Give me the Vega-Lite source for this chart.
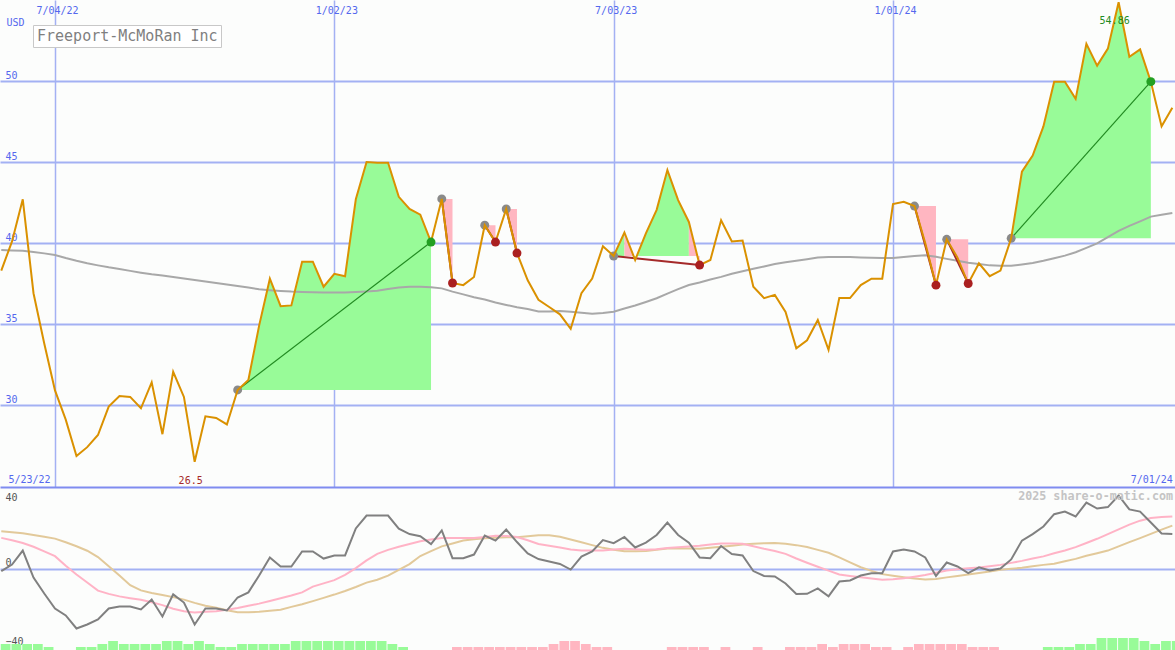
{
  "$schema": "https://vega.github.io/schema/vega-lite/v6.json",
  "background": "#fcfdfc",
  "padding": 0,
  "spacing": 0,
  "bounds": "flush",
  "config": {
    "view": {"stroke": null},
    "axis": {"labelFont": "DejaVu Sans Mono", "labelFontSize": 10, "titleFont": "DejaVu Sans Mono", "titleFontSize": 10, "titleFontWeight": "normal", "titleColor": "#5468ee"}
  },
  "datasets": {
    "weekly": [
      {"d":"2022-05-30","c":38.3,"ma":39.57,"o":-1.5,"s":16.9,"t":20.6,"h":2,"hd":"up"},
      {"d":"2022-06-06","c":40.1,"ma":39.54,"o":2.2,"s":15.6,"t":20.0,"h":2,"hd":"up"},
      {"d":"2022-06-13","c":42.7,"ma":39.52,"o":9.9,"s":14.1,"t":19.4,"h":2,"hd":"up"},
      {"d":"2022-06-20","c":36.9,"ma":39.45,"o":-5.0,"s":12.0,"t":18.5,"h":2,"hd":"up"},
      {"d":"2022-06-27","c":33.8,"ma":39.36,"o":-13.8,"s":9.5,"t":17.5,"h":1,"hd":"up"},
      {"d":"2022-07-04","c":30.9,"ma":39.26,"o":-22.1,"s":6.8,"t":16.5,"h":0,"hd":"up"},
      {"d":"2022-07-11","c":29.1,"ma":39.07,"o":-25.9,"s":1.5,"t":14.5,"h":0,"hd":"up"},
      {"d":"2022-07-18","c":26.85,"ma":38.9,"o":-33.1,"s":-3.3,"t":12.3,"h":1,"hd":"up"},
      {"d":"2022-07-25","c":27.4,"ma":38.75,"o":-30.9,"s":-7.7,"t":9.8,"h":1,"hd":"up"},
      {"d":"2022-08-01","c":28.15,"ma":38.62,"o":-28.1,"s":-12.2,"t":6.3,"h":2,"hd":"up"},
      {"d":"2022-08-08","c":29.9,"ma":38.5,"o":-22.1,"s":-14.0,"t":1.3,"h":3,"hd":"up"},
      {"d":"2022-08-15","c":30.55,"ma":38.4,"o":-21.0,"s":-15.4,"t":-3.9,"h":2,"hd":"up"},
      {"d":"2022-08-22","c":30.5,"ma":38.28,"o":-21.0,"s":-16.4,"t":-9.2,"h":2,"hd":"up"},
      {"d":"2022-08-29","c":29.8,"ma":38.17,"o":-22.6,"s":-17.3,"t":-12.1,"h":2,"hd":"up"},
      {"d":"2022-09-05","c":31.4,"ma":38.07,"o":-17.1,"s":-18.6,"t":-13.5,"h":2,"hd":"up"},
      {"d":"2022-09-12","c":28.2,"ma":37.99,"o":-26.5,"s":-20.2,"t":-14.6,"h":3,"hd":"up"},
      {"d":"2022-09-19","c":32.05,"ma":37.9,"o":-14.3,"s":-22.2,"t":-15.8,"h":3,"hd":"up"},
      {"d":"2022-09-26","c":30.5,"ma":37.81,"o":-18.8,"s":-23.6,"t":-17.2,"h":2,"hd":"up"},
      {"d":"2022-10-03","c":26.5,"ma":37.72,"o":-30.9,"s":-24.3,"t":-19.0,"h":3,"hd":"up"},
      {"d":"2022-10-10","c":29.3,"ma":37.62,"o":-22.1,"s":-23.9,"t":-20.6,"h":2,"hd":"up"},
      {"d":"2022-10-17","c":29.2,"ma":37.53,"o":-22.1,"s":-23.6,"t":-21.7,"h":1,"hd":"up"},
      {"d":"2022-10-24","c":28.8,"ma":37.44,"o":-23.2,"s":-22.8,"t":-23.1,"h":1,"hd":"up"},
      {"d":"2022-10-31","c":30.93,"ma":37.34,"o":-16.0,"s":-21.8,"t":-24.1,"h":2,"hd":"up"},
      {"d":"2022-11-07","c":31.55,"ma":37.25,"o":-13.2,"s":-20.6,"t":-24.1,"h":2,"hd":"up"},
      {"d":"2022-11-14","c":34.9,"ma":37.15,"o":-3.9,"s":-19.4,"t":-23.9,"h":2,"hd":"up"},
      {"d":"2022-11-21","c":37.8,"ma":37.09,"o":6.1,"s":-17.9,"t":-23.3,"h":2,"hd":"up"},
      {"d":"2022-11-28","c":36.1,"ma":37.04,"o":1.1,"s":-16.4,"t":-22.8,"h":2,"hd":"up"},
      {"d":"2022-12-05","c":36.15,"ma":37.0,"o":1.1,"s":-14.9,"t":-21.2,"h":3,"hd":"up"},
      {"d":"2022-12-12","c":38.85,"ma":36.98,"o":9.4,"s":-13.2,"t":-19.7,"h":3,"hd":"up"},
      {"d":"2022-12-19","c":38.85,"ma":36.96,"o":9.4,"s":-10.0,"t":-18.0,"h":3,"hd":"up"},
      {"d":"2022-12-26","c":37.3,"ma":36.95,"o":5.5,"s":-8.2,"t":-16.2,"h":3,"hd":"up"},
      {"d":"2023-01-02","c":38.1,"ma":36.94,"o":7.2,"s":-6.4,"t":-14.4,"h":3,"hd":"up"},
      {"d":"2023-01-09","c":37.95,"ma":36.95,"o":7.2,"s":-3.5,"t":-12.4,"h":3,"hd":"up"},
      {"d":"2023-01-16","c":42.7,"ma":36.98,"o":22.1,"s":0.2,"t":-10.2,"h":3,"hd":"up"},
      {"d":"2023-01-23","c":45.0,"ma":37.01,"o":29.2,"s":4.5,"t":-7.8,"h":3,"hd":"up"},
      {"d":"2023-01-30","c":44.95,"ma":37.05,"o":29.2,"s":8.1,"t":-6.2,"h":3,"hd":"up"},
      {"d":"2023-02-06","c":44.95,"ma":37.16,"o":29.2,"s":10.3,"t":-3.9,"h":2,"hd":"up"},
      {"d":"2023-02-13","c":42.85,"ma":37.25,"o":22.0,"s":12.0,"t":-0.7,"h":1,"hd":"up"},
      {"d":"2023-02-20","c":42.1,"ma":37.3,"o":19.0,"s":13.5,"t":2.4,"h":0,"hd":"up"},
      {"d":"2023-02-27","c":41.75,"ma":37.3,"o":17.8,"s":15.0,"t":6.9,"h":0,"hd":"up"},
      {"d":"2023-03-06","c":40.06,"ma":37.27,"o":13.5,"s":16.0,"t":9.6,"h":0,"hd":"up"},
      {"d":"2023-03-13","c":42.72,"ma":37.2,"o":21.0,"s":16.8,"t":12.2,"h":0,"hd":"up"},
      {"d":"2023-03-20","c":37.53,"ma":37.0,"o":5.7,"s":16.9,"t":13.8,"h":1,"hd":"down"},
      {"d":"2023-03-27","c":37.4,"ma":36.83,"o":5.7,"s":16.9,"t":15.4,"h":1,"hd":"down"},
      {"d":"2023-04-03","c":37.9,"ma":36.65,"o":7.7,"s":16.9,"t":16.1,"h":1,"hd":"down"},
      {"d":"2023-04-10","c":41.1,"ma":36.51,"o":18.2,"s":17.4,"t":16.7,"h":1,"hd":"down"},
      {"d":"2023-04-17","c":40.06,"ma":36.33,"o":15.4,"s":18.1,"t":17.0,"h":1,"hd":"down"},
      {"d":"2023-04-24","c":42.1,"ma":36.18,"o":21.5,"s":18.0,"t":17.2,"h":1,"hd":"down"},
      {"d":"2023-05-01","c":39.38,"ma":36.04,"o":14.6,"s":17.4,"t":17.3,"h":1,"hd":"down"},
      {"d":"2023-05-08","c":37.7,"ma":35.93,"o":8.3,"s":15.6,"t":17.8,"h":1,"hd":"down"},
      {"d":"2023-05-15","c":36.5,"ma":35.78,"o":5.2,"s":13.5,"t":18.3,"h":1,"hd":"down"},
      {"d":"2023-05-22","c":36.05,"ma":35.78,"o":3.9,"s":12.6,"t":18.3,"h":2,"hd":"down"},
      {"d":"2023-05-29","c":35.6,"ma":35.81,"o":2.5,"s":11.6,"t":17.5,"h":3,"hd":"down"},
      {"d":"2023-06-05","c":34.7,"ma":35.75,"o":-0.6,"s":10.5,"t":16.0,"h":3,"hd":"down"},
      {"d":"2023-06-12","c":36.9,"ma":35.69,"o":6.6,"s":9.9,"t":14.5,"h":2,"hd":"down"},
      {"d":"2023-06-19","c":37.8,"ma":35.63,"o":9.4,"s":9.9,"t":12.9,"h":1,"hd":"down"},
      {"d":"2023-06-26","c":39.8,"ma":35.68,"o":15.7,"s":9.9,"t":11.4,"h":1,"hd":"down"},
      {"d":"2023-07-03","c":39.2,"ma":35.76,"o":14.0,"s":10.5,"t":10.4,"h":0,"hd":"down"},
      {"d":"2023-07-10","c":40.65,"ma":35.96,"o":17.4,"s":10.9,"t":9.5,"h":0,"hd":"down"},
      {"d":"2023-07-17","c":38.95,"ma":36.14,"o":11.6,"s":10.6,"t":9.5,"h":0,"hd":"down"},
      {"d":"2023-07-24","c":40.6,"ma":36.36,"o":14.3,"s":10.4,"t":9.7,"h":0,"hd":"down"},
      {"d":"2023-07-31","c":42.05,"ma":36.59,"o":18.5,"s":10.6,"t":10.3,"h":0,"hd":"down"},
      {"d":"2023-08-07","c":44.5,"ma":36.88,"o":25.4,"s":11.3,"t":11.0,"h":1,"hd":"down"},
      {"d":"2023-08-14","c":42.65,"ma":37.15,"o":18.5,"s":11.8,"t":11.1,"h":1,"hd":"down"},
      {"d":"2023-08-21","c":41.3,"ma":37.41,"o":14.3,"s":12.2,"t":11.0,"h":1,"hd":"down"},
      {"d":"2023-08-28","c":38.64,"ma":37.56,"o":6.1,"s":12.6,"t":10.9,"h":1,"hd":"down"},
      {"d":"2023-09-04","c":38.95,"ma":37.75,"o":5.7,"s":13.3,"t":11.4,"h":0,"hd":"down"},
      {"d":"2023-09-11","c":41.4,"ma":37.91,"o":12.4,"s":13.8,"t":12.0,"h":1,"hd":"down"},
      {"d":"2023-09-18","c":40.1,"ma":38.1,"o":8.0,"s":13.8,"t":12.6,"h":0,"hd":"down"},
      {"d":"2023-09-25","c":40.15,"ma":38.26,"o":7.2,"s":13.7,"t":13.2,"h":0,"hd":"down"},
      {"d":"2023-10-02","c":37.3,"ma":38.41,"o":-1.4,"s":12.3,"t":13.7,"h":1,"hd":"down"},
      {"d":"2023-10-09","c":36.6,"ma":38.55,"o":-4.1,"s":10.9,"t":14.0,"h":0,"hd":"down"},
      {"d":"2023-10-16","c":36.8,"ma":38.7,"o":-4.4,"s":9.7,"t":14.1,"h":0,"hd":"down"},
      {"d":"2023-10-23","c":35.75,"ma":38.81,"o":-8.3,"s":8.1,"t":13.6,"h":1,"hd":"down"},
      {"d":"2023-10-30","c":33.5,"ma":38.91,"o":-14.1,"s":5.5,"t":12.9,"h":1,"hd":"down"},
      {"d":"2023-11-06","c":34.0,"ma":39.0,"o":-14.0,"s":3.2,"t":11.9,"h":1,"hd":"down"},
      {"d":"2023-11-13","c":35.25,"ma":39.1,"o":-11.0,"s":1.0,"t":10.3,"h":2,"hd":"down"},
      {"d":"2023-11-20","c":33.4,"ma":39.14,"o":-15.4,"s":-1.2,"t":8.7,"h":1,"hd":"down"},
      {"d":"2023-11-27","c":36.6,"ma":39.14,"o":-7.2,"s":-3.3,"t":6.1,"h":2,"hd":"down"},
      {"d":"2023-12-04","c":36.6,"ma":39.14,"o":-6.6,"s":-4.1,"t":3.4,"h":2,"hd":"down"},
      {"d":"2023-12-11","c":37.4,"ma":39.11,"o":-3.9,"s":-4.8,"t":0.7,"h":2,"hd":"down"},
      {"d":"2023-12-18","c":37.8,"ma":39.09,"o":-2.6,"s":-5.5,"t":-1.3,"h":1,"hd":"down"},
      {"d":"2023-12-25","c":37.8,"ma":39.07,"o":-2.6,"s":-6.2,"t":-3.1,"h":1,"hd":"down"},
      {"d":"2024-01-01","c":42.4,"ma":39.07,"o":9.4,"s":-5.9,"t":-4.0,"h":0,"hd":"down"},
      {"d":"2024-01-08","c":42.55,"ma":39.14,"o":10.5,"s":-5.4,"t":-4.8,"h":1,"hd":"down"},
      {"d":"2024-01-15","c":42.28,"ma":39.2,"o":9.4,"s":-4.5,"t":-5.5,"h":2,"hd":"down"},
      {"d":"2024-01-22","c":40.0,"ma":39.25,"o":6.1,"s":-3.6,"t":-6.1,"h":2,"hd":"down"},
      {"d":"2024-01-29","c":37.4,"ma":39.15,"o":-4.1,"s":-2.3,"t":-5.8,"h":2,"hd":"down"},
      {"d":"2024-02-05","c":40.23,"ma":39.02,"o":3.3,"s":-1.1,"t":-4.9,"h":2,"hd":"down"},
      {"d":"2024-02-12","c":39.1,"ma":38.9,"o":1.1,"s":-0.4,"t":-4.1,"h":2,"hd":"down"},
      {"d":"2024-02-19","c":37.5,"ma":38.78,"o":-2.5,"s":0.1,"t":-3.3,"h":1,"hd":"down"},
      {"d":"2024-02-26","c":38.75,"ma":38.7,"o":0.6,"s":0.6,"t":-2.5,"h":1,"hd":"down"},
      {"d":"2024-03-04","c":37.95,"ma":38.62,"o":-1.1,"s":1.3,"t":-1.7,"h":1,"hd":"down"},
      {"d":"2024-03-11","c":38.3,"ma":38.6,"o":0.0,"s":2.0,"t":-0.7,"h":0,"hd":"up"},
      {"d":"2024-03-18","c":40.29,"ma":38.59,"o":5.0,"s":3.1,"t":-0.2,"h":0,"hd":"up"},
      {"d":"2024-03-25","c":44.4,"ma":38.68,"o":15.4,"s":4.2,"t":0.4,"h":0,"hd":"up"},
      {"d":"2024-04-01","c":45.4,"ma":38.77,"o":19.0,"s":5.5,"t":1.2,"h":0,"hd":"up"},
      {"d":"2024-04-08","c":47.2,"ma":38.9,"o":23.2,"s":6.7,"t":2.0,"h":1,"hd":"up"},
      {"d":"2024-04-15","c":49.96,"ma":39.06,"o":30.0,"s":8.4,"t":2.6,"h":1,"hd":"up"},
      {"d":"2024-04-22","c":49.96,"ma":39.22,"o":31.4,"s":9.9,"t":4.0,"h":1,"hd":"up"},
      {"d":"2024-04-29","c":48.9,"ma":39.43,"o":28.7,"s":11.8,"t":5.3,"h":2,"hd":"up"},
      {"d":"2024-05-06","c":52.3,"ma":39.7,"o":36.4,"s":14.1,"t":7.0,"h":2,"hd":"up"},
      {"d":"2024-05-13","c":50.95,"ma":39.98,"o":33.1,"s":16.4,"t":8.4,"h":4,"hd":"up"},
      {"d":"2024-05-20","c":52.0,"ma":40.36,"o":33.9,"s":19.0,"t":9.9,"h":4,"hd":"up"},
      {"d":"2024-05-27","c":54.86,"ma":40.75,"o":40.3,"s":21.6,"t":12.2,"h":4,"hd":"up"},
      {"d":"2024-06-03","c":51.5,"ma":41.06,"o":32.6,"s":24.2,"t":14.6,"h":4,"hd":"up"},
      {"d":"2024-06-10","c":51.95,"ma":41.34,"o":31.4,"s":26.4,"t":16.8,"h":3,"hd":"up"},
      {"d":"2024-06-17","c":49.96,"ma":41.63,"o":25.4,"s":27.9,"t":19.1,"h":2,"hd":"up"},
      {"d":"2024-06-24","c":47.2,"ma":41.74,"o":19.3,"s":28.4,"t":21.5,"h":3,"hd":"up"},
      {"d":"2024-07-01","c":48.35,"ma":41.85,"o":19.0,"s":28.7,"t":23.7,"h":3,"hd":"up"}
    ],
    "fills": [
      {"g":"A","d":"2022-10-31","p":30.93,"b":30.93,"k":"gain"},
      {"g":"A","d":"2022-11-07","p":31.55,"b":30.93,"k":"gain"},
      {"g":"A","d":"2022-11-14","p":34.9,"b":30.93,"k":"gain"},
      {"g":"A","d":"2022-11-21","p":37.8,"b":30.93,"k":"gain"},
      {"g":"A","d":"2022-11-28","p":36.1,"b":30.93,"k":"gain"},
      {"g":"A","d":"2022-12-05","p":36.15,"b":30.93,"k":"gain"},
      {"g":"A","d":"2022-12-12","p":38.85,"b":30.93,"k":"gain"},
      {"g":"A","d":"2022-12-19","p":38.85,"b":30.93,"k":"gain"},
      {"g":"A","d":"2022-12-26","p":37.3,"b":30.93,"k":"gain"},
      {"g":"A","d":"2023-01-02","p":38.1,"b":30.93,"k":"gain"},
      {"g":"A","d":"2023-01-09","p":37.95,"b":30.93,"k":"gain"},
      {"g":"A","d":"2023-01-16","p":42.7,"b":30.93,"k":"gain"},
      {"g":"A","d":"2023-01-23","p":45.0,"b":30.93,"k":"gain"},
      {"g":"A","d":"2023-01-30","p":44.95,"b":30.93,"k":"gain"},
      {"g":"A","d":"2023-02-06","p":44.95,"b":30.93,"k":"gain"},
      {"g":"A","d":"2023-02-13","p":42.85,"b":30.93,"k":"gain"},
      {"g":"A","d":"2023-02-20","p":42.1,"b":30.93,"k":"gain"},
      {"g":"A","d":"2023-02-27","p":41.75,"b":30.93,"k":"gain"},
      {"g":"A","d":"2023-03-06","p":40.06,"b":30.93,"k":"gain"},
      {"g":"B","d":"2023-03-13","p":42.72,"b":42.72,"k":"loss"},
      {"g":"B","d":"2023-03-20","p":37.53,"b":42.72,"k":"loss"},
      {"g":"C","d":"2023-04-10","p":41.1,"b":41.1,"k":"loss"},
      {"g":"C","d":"2023-04-17","p":40.06,"b":41.1,"k":"loss"},
      {"g":"D","d":"2023-04-24","p":42.1,"b":42.1,"k":"loss"},
      {"g":"D","d":"2023-05-01","p":39.38,"b":42.1,"k":"loss"},
      {"g":"E1","d":"2023-07-03","p":39.2,"b":39.2,"k":"gain"},
      {"g":"E1","d":"2023-07-10","p":40.65,"b":39.2,"k":"gain"},
      {"g":"E2","d":"2023-07-10","p":40.65,"b":39.2,"k":"loss"},
      {"g":"E2","d":"2023-07-17","p":38.95,"b":39.2,"k":"loss"},
      {"g":"E3","d":"2023-07-17","p":38.95,"b":39.2,"k":"gain"},
      {"g":"E3","d":"2023-07-24","p":40.6,"b":39.2,"k":"gain"},
      {"g":"E3","d":"2023-07-31","p":42.05,"b":39.2,"k":"gain"},
      {"g":"E3","d":"2023-08-07","p":44.5,"b":39.2,"k":"gain"},
      {"g":"E3","d":"2023-08-14","p":42.65,"b":39.2,"k":"gain"},
      {"g":"E3","d":"2023-08-21","p":41.3,"b":39.2,"k":"gain"},
      {"g":"E4","d":"2023-08-21","p":41.3,"b":39.2,"k":"loss"},
      {"g":"E4","d":"2023-08-28","p":38.64,"b":39.2,"k":"loss"},
      {"g":"F","d":"2024-01-15","p":42.28,"b":42.28,"k":"loss"},
      {"g":"F","d":"2024-01-22","p":40.0,"b":42.28,"k":"loss"},
      {"g":"F","d":"2024-01-29","p":37.4,"b":42.28,"k":"loss"},
      {"g":"G","d":"2024-02-05","p":40.23,"b":40.23,"k":"loss"},
      {"g":"G","d":"2024-02-12","p":39.1,"b":40.23,"k":"loss"},
      {"g":"G","d":"2024-02-19","p":37.5,"b":40.23,"k":"loss"},
      {"g":"H","d":"2024-03-18","p":40.29,"b":40.29,"k":"gain"},
      {"g":"H","d":"2024-03-25","p":44.4,"b":40.29,"k":"gain"},
      {"g":"H","d":"2024-04-01","p":45.4,"b":40.29,"k":"gain"},
      {"g":"H","d":"2024-04-08","p":47.2,"b":40.29,"k":"gain"},
      {"g":"H","d":"2024-04-15","p":49.96,"b":40.29,"k":"gain"},
      {"g":"H","d":"2024-04-22","p":49.96,"b":40.29,"k":"gain"},
      {"g":"H","d":"2024-04-29","p":48.9,"b":40.29,"k":"gain"},
      {"g":"H","d":"2024-05-06","p":52.3,"b":40.29,"k":"gain"},
      {"g":"H","d":"2024-05-13","p":50.95,"b":40.29,"k":"gain"},
      {"g":"H","d":"2024-05-20","p":52.0,"b":40.29,"k":"gain"},
      {"g":"H","d":"2024-05-27","p":54.86,"b":40.29,"k":"gain"},
      {"g":"H","d":"2024-06-03","p":51.5,"b":40.29,"k":"gain"},
      {"g":"H","d":"2024-06-10","p":51.95,"b":40.29,"k":"gain"},
      {"g":"H","d":"2024-06-17","p":49.96,"b":40.29,"k":"gain"}
    ],
    "trades": [
      {"tr":"A","d":"2022-10-31","p":30.93,"step":"entry","r":"gain"},
      {"tr":"A","d":"2023-03-06","p":40.06,"step":"exit","r":"gain"},
      {"tr":"B","d":"2023-03-13","p":42.72,"step":"entry","r":"loss"},
      {"tr":"B","d":"2023-03-20","p":37.53,"step":"exit","r":"loss"},
      {"tr":"C","d":"2023-04-10","p":41.1,"step":"entry","r":"loss"},
      {"tr":"C","d":"2023-04-17","p":40.06,"step":"exit","r":"loss"},
      {"tr":"D","d":"2023-04-24","p":42.1,"step":"entry","r":"loss"},
      {"tr":"D","d":"2023-05-01","p":39.38,"step":"exit","r":"loss"},
      {"tr":"E","d":"2023-07-03","p":39.2,"step":"entry","r":"loss"},
      {"tr":"E","d":"2023-08-28","p":38.64,"step":"exit","r":"loss"},
      {"tr":"F","d":"2024-01-15","p":42.28,"step":"entry","r":"loss"},
      {"tr":"F","d":"2024-01-29","p":37.4,"step":"exit","r":"loss"},
      {"tr":"G","d":"2024-02-05","p":40.23,"step":"entry","r":"loss"},
      {"tr":"G","d":"2024-02-19","p":37.5,"step":"exit","r":"loss"},
      {"tr":"H","d":"2024-03-18","p":40.29,"step":"entry","r":"gain"},
      {"tr":"H","d":"2024-06-17","p":49.96,"step":"exit","r":"gain"}
    ],
    "extremes": [
      {"d":"2022-10-03","p":26.5,"k":"low"},
      {"d":"2024-05-27","p":54.86,"k":"high"}
    ]
  },
  "vconcat": [
    {
      "width": 1175,
      "height": 487,
      "layer": [
        {
          "data": {"name": "fills"},
          "mark": {"type": "area", "clip": true},
          "encoding": {
            "x": {"field": "d", "type": "temporal",
              "scale": {"type": "utc", "domain": [{"year":2022,"month":5,"date":29,"hours":4,"utc":true},{"year":2024,"month":7,"date":2,"hours":17,"minutes":40,"utc":true}]},
              "axis": {"orient": "top", "title": "USD",
                "titleX": 6, "titleY": 25, "titleAngle": 0, "titleAlign": "left", "titleBaseline": "alphabetic",
                "titleFont": "DejaVu Sans Mono", "titleFontSize": 10, "titleFontWeight": "normal", "titleColor": "#5468ee",
                "values": [{"year":2022,"month":7,"date":4,"utc":true},{"year":2023,"month":1,"date":2,"utc":true},{"year":2023,"month":7,"date":3,"utc":true},{"year":2024,"month":1,"date":1,"utc":true}],
                "grid": true, "gridColor": "#a3b1f3", "gridWidth": 1.5, "domain": false, "ticks": false, "tickSize": 0,
                "labelPadding": -13, "labelBaseline": "alphabetic", "labelOffset": 2,
                "labelExpr": "utcFormat(datum.value, '%-m/%d/%y')",
                "labelColor": "#5468ee", "labelFont": "DejaVu Sans Mono", "labelFontSize": 10}},
            "y": {"field": "p", "type": "quantitative",
              "scale": {"domain": [24.94, 55], "nice": false, "zero": false},
              "axis": {"values": [30, 35, 40, 45, 50], "grid": true, "gridColor": "#a3b1f3", "gridWidth": 2,
                "domain": false, "ticks": false, "tickSize": 0,
                "labelAlign": "left", "labelBaseline": "alphabetic", "labelPadding": -5, "labelOffset": -3,
                "labelColor": "#5468ee", "labelFont": "DejaVu Sans Mono", "labelFontSize": 10,
                "title": null}},
            "y2": {"field": "b"},
            "color": {"field": "k", "type": "nominal", "scale": {"domain": ["gain", "loss"], "range": ["#98fb98", "#ffb6c1"]}, "legend": null},
            "detail": {"field": "g"}
          }
        },
        {
          "data": {"name": "weekly"},
          "mark": {"type": "line", "color": "#a8a8a8", "strokeWidth": 2, "clip": true},
          "encoding": {
            "x": {"field": "d", "type": "temporal", "axis": null},
            "y": {"field": "ma", "type": "quantitative"}
          }
        },
        {
          "data": {"name": "trades"},
          "mark": {"type": "line", "clip": true},
          "encoding": {
            "x": {"field": "d", "type": "temporal", "axis": null},
            "y": {"field": "p", "type": "quantitative"},
            "detail": {"field": "tr"},
            "color": {"field": "r", "type": "nominal", "scale": {"domain": ["gain", "loss"], "range": ["#228b22", "#a52a2a"]}, "legend": null},
            "strokeWidth": {"field": "r", "type": "nominal", "scale": {"domain": ["gain", "loss"], "range": [1.2, 2]}, "legend": null}
          }
        },
        {
          "data": {"name": "trades"},
          "transform": [{"filter": "datum.step === 'entry'"}],
          "mark": {"type": "circle", "size": 80, "color": "#8a8a8a", "opacity": 1},
          "encoding": {
            "x": {"field": "d", "type": "temporal", "axis": null},
            "y": {"field": "p", "type": "quantitative"}
          }
        },
        {
          "data": {"name": "weekly"},
          "mark": {"type": "line", "strokeWidth": 2, "clip": true},
          "encoding": {
            "x": {"field": "d", "type": "temporal",
              "axis": {"orient": "bottom", "title": null,
                "values": [{"year":2022,"month":6,"date":3,"hours":9,"utc":true},{"year":2024,"month":7,"date":1,"utc":true}],
                "grid": false, "domain": true, "domainColor": "#7f8cf0", "domainWidth": 2, "ticks": false, "tickSize": 0,
                "labelPadding": -4.5, "labelBaseline": "alphabetic", "labelFlush": 12,
                "labelExpr": "datum.index === 0 ? '5/23/22' : utcFormat(datum.value, '%-m/%d/%y')",
                "labelColor": "#5468ee", "labelFont": "DejaVu Sans Mono", "labelFontSize": 10}},
            "y": {"field": "c", "type": "quantitative"},
            "stroke": {"datum": "Freeport-McMoRan Inc", "type": "nominal", "scale": {"range": ["#da9100"]},
              "legend": {"orient": "none", "legendX": 33, "legendY": 25, "title": null, "padding": 3,
                "strokeColor": "#c8c8c8", "fillColor": "#ffffff", "cornerRadius": 0,
                "labelFont": "DejaVu Sans Mono", "labelFontSize": 15, "labelColor": "#7f7f7f", "labelLimit": 0,
                "symbolType": "circle", "symbolSize": 0, "symbolStrokeWidth": 0, "symbolOpacity": 0, "labelOffset": -14}}
          }
        },
        {
          "data": {"name": "trades"},
          "transform": [{"filter": "datum.step === 'exit'"}],
          "mark": {"type": "circle", "size": 80, "opacity": 1},
          "encoding": {
            "x": {"field": "d", "type": "temporal", "axis": null},
            "y": {"field": "p", "type": "quantitative"},
            "color": {"field": "r", "type": "nominal", "scale": {"domain": ["gain", "loss"], "range": ["#22a022", "#aa2020"]}, "legend": null}
          }
        },
        {
          "data": {"name": "extremes"},
          "mark": {"type": "text", "dx": -4, "dy": 22, "baseline": "alphabetic", "align": "center", "font": "DejaVu Sans Mono", "fontSize": 10},
          "encoding": {
            "x": {"field": "d", "type": "temporal", "axis": null},
            "y": {"field": "p", "type": "quantitative"},
            "text": {"field": "p", "type": "nominal"},
            "color": {"field": "k", "type": "nominal", "scale": {"domain": ["low", "high"], "range": ["#a52a2a", "#228b22"]}, "legend": null}
          }
        }
      ],
      "resolve": {"scale": {"color": "independent", "strokeWidth": "independent"}, "axis": {"x": "independent"}}
    },
    {
      "width": 1175,
      "height": 163,
      "title": {"text": "2025 share-o-matic.com", "orient": "top", "anchor": "end", "frame": "group", "offset": -25, "dx": -2,
        "baseline": "alphabetic", "font": "DejaVu Sans Mono", "fontSize": 11.7, "fontWeight": "bold", "color": "#c4c4c4"},
      "layer": [
        {
          "data": {"name": "weekly"},
          "mark": {"type": "bar", "clip": true},
          "encoding": {
            "x": {"field": "d", "type": "temporal", "timeUnit": "utcyearweek",
              "scale": {"type": "utc", "domain": [{"year":2022,"month":5,"date":29,"hours":4,"utc":true},{"year":2024,"month":7,"date":2,"hours":17,"minutes":40,"utc":true}]},
              "axis": {"orient": "bottom", "title": null,
                "values": [{"year":2022,"month":7,"date":4,"utc":true},{"year":2023,"month":1,"date":2,"utc":true},{"year":2023,"month":7,"date":3,"utc":true},{"year":2024,"month":1,"date":1,"utc":true}],
                "grid": true, "gridColor": "#a3b1f3", "gridWidth": 1.5, "domain": false, "ticks": false, "labels": false}},
            "y": {"field": "h", "type": "quantitative", "scale": {"domain": [0, 54.33], "nice": false, "zero": true}, "axis": null},
            "color": {"field": "hd", "type": "nominal", "scale": {"domain": ["up", "down"], "range": ["#98fb98", "#ffb6c1"]}, "legend": null}
          }
        },
        {
          "data": {"name": "weekly"},
          "layer": [
            {
              "mark": {"type": "line", "color": "#e2c99a", "strokeWidth": 2, "clip": true},
              "encoding": {
                "x": {"field": "d", "type": "temporal", "axis": null},
                "y": {"field": "t", "type": "quantitative", "scale": {"domain": [-45, 45], "nice": false},
                  "axis": {"values": [-40, 0, 40], "title": null, "grid": true,
                    "gridColor": {"condition": {"test": "datum.value === 0", "value": "#a3b1f3"}, "value": "transparent"},
                    "gridWidth": 2, "domain": false, "ticks": false, "tickSize": 0,
                    "labelAlign": "left", "labelPadding": -5,
                    "labelBaseline": {"condition": {"test": "datum.value === 0", "value": "alphabetic"}, "value": "middle"},
                    "labelOffset": {"condition": {"test": "datum.value === 0", "value": -3}, "value": 1},
                    "labelColor": "#555555", "labelFont": "DejaVu Sans Mono", "labelFontSize": 10}}
              }
            },
            {
              "mark": {"type": "line", "color": "#ffb3c6", "strokeWidth": 2, "clip": true},
              "encoding": {
                "x": {"field": "d", "type": "temporal", "axis": null},
                "y": {"field": "s", "type": "quantitative"}
              }
            },
            {
              "mark": {"type": "line", "color": "#808080", "strokeWidth": 2, "clip": true},
              "encoding": {
                "x": {"field": "d", "type": "temporal", "axis": null},
                "y": {"field": "o", "type": "quantitative"}
              }
            }
          ]
        }
      ],
      "resolve": {"scale": {"y": "independent"}}
    }
  ]
}
